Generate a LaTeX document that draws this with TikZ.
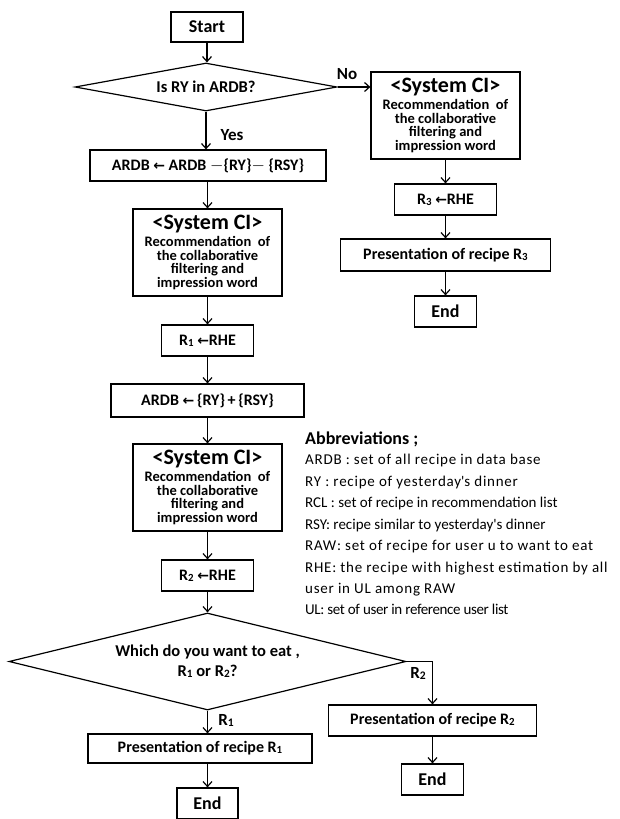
\documentclass[tikz,border=0pt]{standalone}
\usepackage{fontspec}
\setmainfont{Carlito}
\newfontfamily\arrowfont{DejaVu Sans}
\usetikzlibrary{shapes.geometric,arrows.meta}
\newcommand{\rsub}[1]{R\raisebox{-1pt}{\scalebox{0.68}{#1}}}
\newcommand{\larr}{{\arrowfont\fontsize{14}{14}\selectfont ←}}
\newcommand{\sysci}{{\fontsize{22}{22}\selectfont <System CI>}\\[3pt]
    Recommendation\ \ of\\the collaborative\\filtering and\\impression word}
\tikzset{
    box/.style={
        draw,
        rectangle,
        line width=1.2pt,
        inner sep=0pt,
        minimum height=31pt,
        font=\bfseries\fontsize{16}{18}\selectfont
    },
    sysbox/.style={
        box,
        minimum width=149pt,
        minimum height=87pt,
        align=center,
        font=\bfseries\fontsize{14.5}{13.7}\selectfont
    },
    endbox/.style={box,minimum width=62pt,font=\bfseries\fontsize{18}{18}\selectfont},
    ask/.style={
        draw,
        diamond,
        aspect=#1,
        line width=1.2pt,
        inner sep=0pt,
        align=center,
        font=\bfseries\fontsize{16.5}{20}\selectfont
    },
    flow/.style={line width=1.2pt,-{Straight Barb[length=5pt,width=9pt]}},
    tag/.style={inner sep=0pt,font=\bfseries\fontsize{17}{17}\selectfont},
    abbr/.style={anchor=base west,inner sep=0pt,font=\fontsize{15}{15}\selectfont}
}

\begin{document}
\begin{tikzpicture}[x=1pt,y=-1pt]
    \useasboundingbox (0,0) rectangle (619,819);

    % main column
    \node[endbox,minimum width=72pt,minimum height=30pt] (start) at (207,27) {Start};
    \node[ask=5.5,minimum width=262pt,minimum height=48pt] (isry) at (206,87) {Is RY in ARDB?};
    \node[box,minimum width=236pt] (ardbout) at (208,165.5) {ARDB \larr\ ARDB $-$\{RY\}$-$ \{RSY\}};
    \node[sysbox] (sysone) at (207.5,252.5) {\sysci};
    \node[box,minimum width=92pt] (rone) at (207.5,340.5) {\rsub{1} \larr RHE};
    \node[box,minimum width=193pt,minimum height=33pt] (ardbin) at (207.5,400.5) {ARDB \larr\,\{RY\}\,+\,\{RSY\}};
    \node[sysbox] (systwo) at (207.5,487.5) {\sysci};
    \node[box,minimum width=92pt] (rtwo) at (207.5,575.5) {\rsub{2} \larr RHE};
    \node[ask=4.1,minimum width=397pt,minimum height=97pt] (which) at (207.5,661.5)
        {Which do you want to eat ,\\\rsub{1} or \rsub{2}?};
    \node[box,minimum width=224pt,minimum height=29pt] (presone) at (200,748.5) {Presentation of recipe \rsub{1}};
    \node[endbox,minimum width=61pt] (endone) at (207.5,803.5) {End};

    % branch for "No"
    \node[sysbox] (sysno) at (445.5,115.5) {\sysci};
    \node[box,minimum width=102pt] (rthree) at (445.5,199.5) {\rsub{3} \larr RHE};
    \node[box,minimum width=210pt,minimum height=32pt] (presthree) at (445.5,255) {Presentation of recipe \rsub{3}};
    \node[endbox] (endthree) at (445.5,311.5) {End};

    % branch for R2
    \node[box,minimum width=208pt] (prestwo) at (432.5,720.5) {Presentation of recipe \rsub{2}};
    \node[endbox] (endtwo) at (432.5,779.5) {End};

    % labels on the connectors
    \node[tag] (no) at (347,74) {No};
    \node[tag] (yes) at (232,135) {Yes};
    \node[tag] (pickone) at (226,720) {\rsub{1}};
    \node[tag] (picktwo) at (418,673) {\rsub{2}};

    \draw[flow] (start) -- (start |- isry.north);
    \draw[flow] (isry) -- (isry |- ardbout.north);
    \draw[flow] (isry.east) -- (isry.east -| sysno.west);
    \draw[flow] (ardbout.south -| sysone) -- (sysone);
    \draw[flow] (sysone) -- (rone);
    \draw[flow] (rone) -- (ardbin);
    \draw[flow] (ardbin) -- (systwo);
    \draw[flow] (systwo) -- (rtwo);
    \draw[flow] (rtwo) -- (which);
    \draw[flow] (which) -- (which |- presone.north);
    \draw[flow] (endone |- presone.south) -- (endone);
    \draw[flow] (which.east) -| (prestwo);
    \draw[flow] (prestwo) -- (endtwo);
    \draw[flow] (sysno) -- (rthree);
    \draw[flow] (rthree) -- (presthree);
    \draw[flow] (presthree) -- (endthree);

    % abbreviation list
    \node[abbr,font=\bfseries\fontsize{18}{18}\selectfont] (abbrhead) at (305,444) {Abbreviations ;};
    \foreach \ls/\y/\txt [count=\i] in {
        5/464.5/{ARDB : set of all recipe in data base},
        5/486/{RY : recipe of yesterday\textquotesingle s dinner},
        0/507.5/{RCL : set of recipe in recommendation list},
        0/529/{RSY: recipe similar to yesterday\textquotesingle s dinner},
        5/550.5/{RAW: set of recipe for user u to want to eat},
        5/572/{RHE: the recipe with highest estimation by all},
        5/593.5/{user in UL among RAW},
        -2.5/614/{UL: set of user in reference user list}
    }
        \node[abbr] (abbr\i) at (305,\y) {\addfontfeature{LetterSpace=\ls}\txt};
\end{tikzpicture}
\end{document}
